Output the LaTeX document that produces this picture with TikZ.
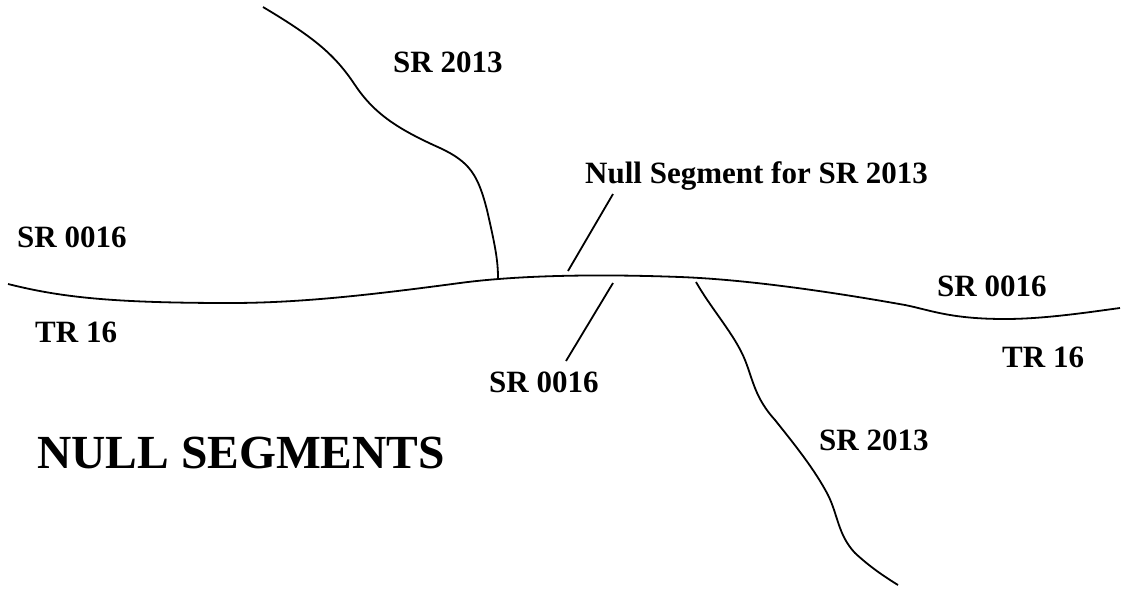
\documentclass[tikz,border=0pt]{standalone}
\usepackage{fontspec}
\setmainfont{Liberation Serif}
\tikzset{
  road/.style={line width=1.8pt, line join=round},
  leader/.style={line width=1.8pt},
  lbl/.style={font=\fontsize{31}{36}\selectfont\bfseries, inner sep=0pt, anchor=base west},
  title/.style={font=\fontsize{47.5}{54}\selectfont\bfseries, inner sep=0pt, anchor=base west}
}
\begin{document}
\begin{tikzpicture}[x=1pt,y=-1pt]
\useasboundingbox (0,0) rectangle (1125,590);
% main road (SR 0016 / TR 16)
\draw[road] (8,284) .. controls (60,297) and (110,303) .. (230,303)
  .. controls (300,303) and (370,295) .. (460,283)
  .. controls (520,275) and (600,274) .. (680,277)
  .. controls (760,280) and (860,297) .. (905,305)
  .. controls (930,310) and (950,319) .. (1005,319)
  .. controls (1045,319) and (1090,312) .. (1120,308);
% upper SR 2013
\draw[road] (263,7) .. controls (315,38) and (335,55) .. (355,85)
  .. controls (375,115) and (400,130) .. (440,148)
  .. controls (470,162) and (478,175) .. (487,210)
  .. controls (495,245) and (498,260) .. (498,278);
% lower SR 2013
\draw[road] (696,282) .. controls (712,310) and (735,335) .. (745,360)
  .. controls (753,380) and (755,398) .. (775,420)
  .. controls (795,445) and (815,470) .. (828,495)
  .. controls (838,515) and (838,535) .. (855,553)
  .. controls (870,567) and (885,577) .. (898,585);
% labels
\node[lbl] (s2013a) at (393,72) {SR 2013};
\node[lbl] (nullseg) at (585,183) {Null Segment for SR 2013};
\node[lbl] (s0016a) at (17,247) {SR 0016};
\node[lbl] (tr16a) at (35,342) {TR 16};
\node[lbl] (s0016b) at (489,392) {SR 0016};
\node[lbl] (s0016c) at (937,296) {SR 0016};
\node[lbl] (tr16b) at (1002,367) {TR 16};
\node[lbl] (s2013b) at (819,450) {SR 2013};
\node[title] (ttl) at (37,468) {NULL SEGMENTS};
% leaders
\coordinate (n1) at (613,194);
\coordinate (n2) at (568,271);
\coordinate (m1) at (613,283);
\coordinate (m2) at (566,361);
\draw[leader] (n1) -- (n2);
\draw[leader] (m1) -- (m2);
\end{tikzpicture}
\end{document}
